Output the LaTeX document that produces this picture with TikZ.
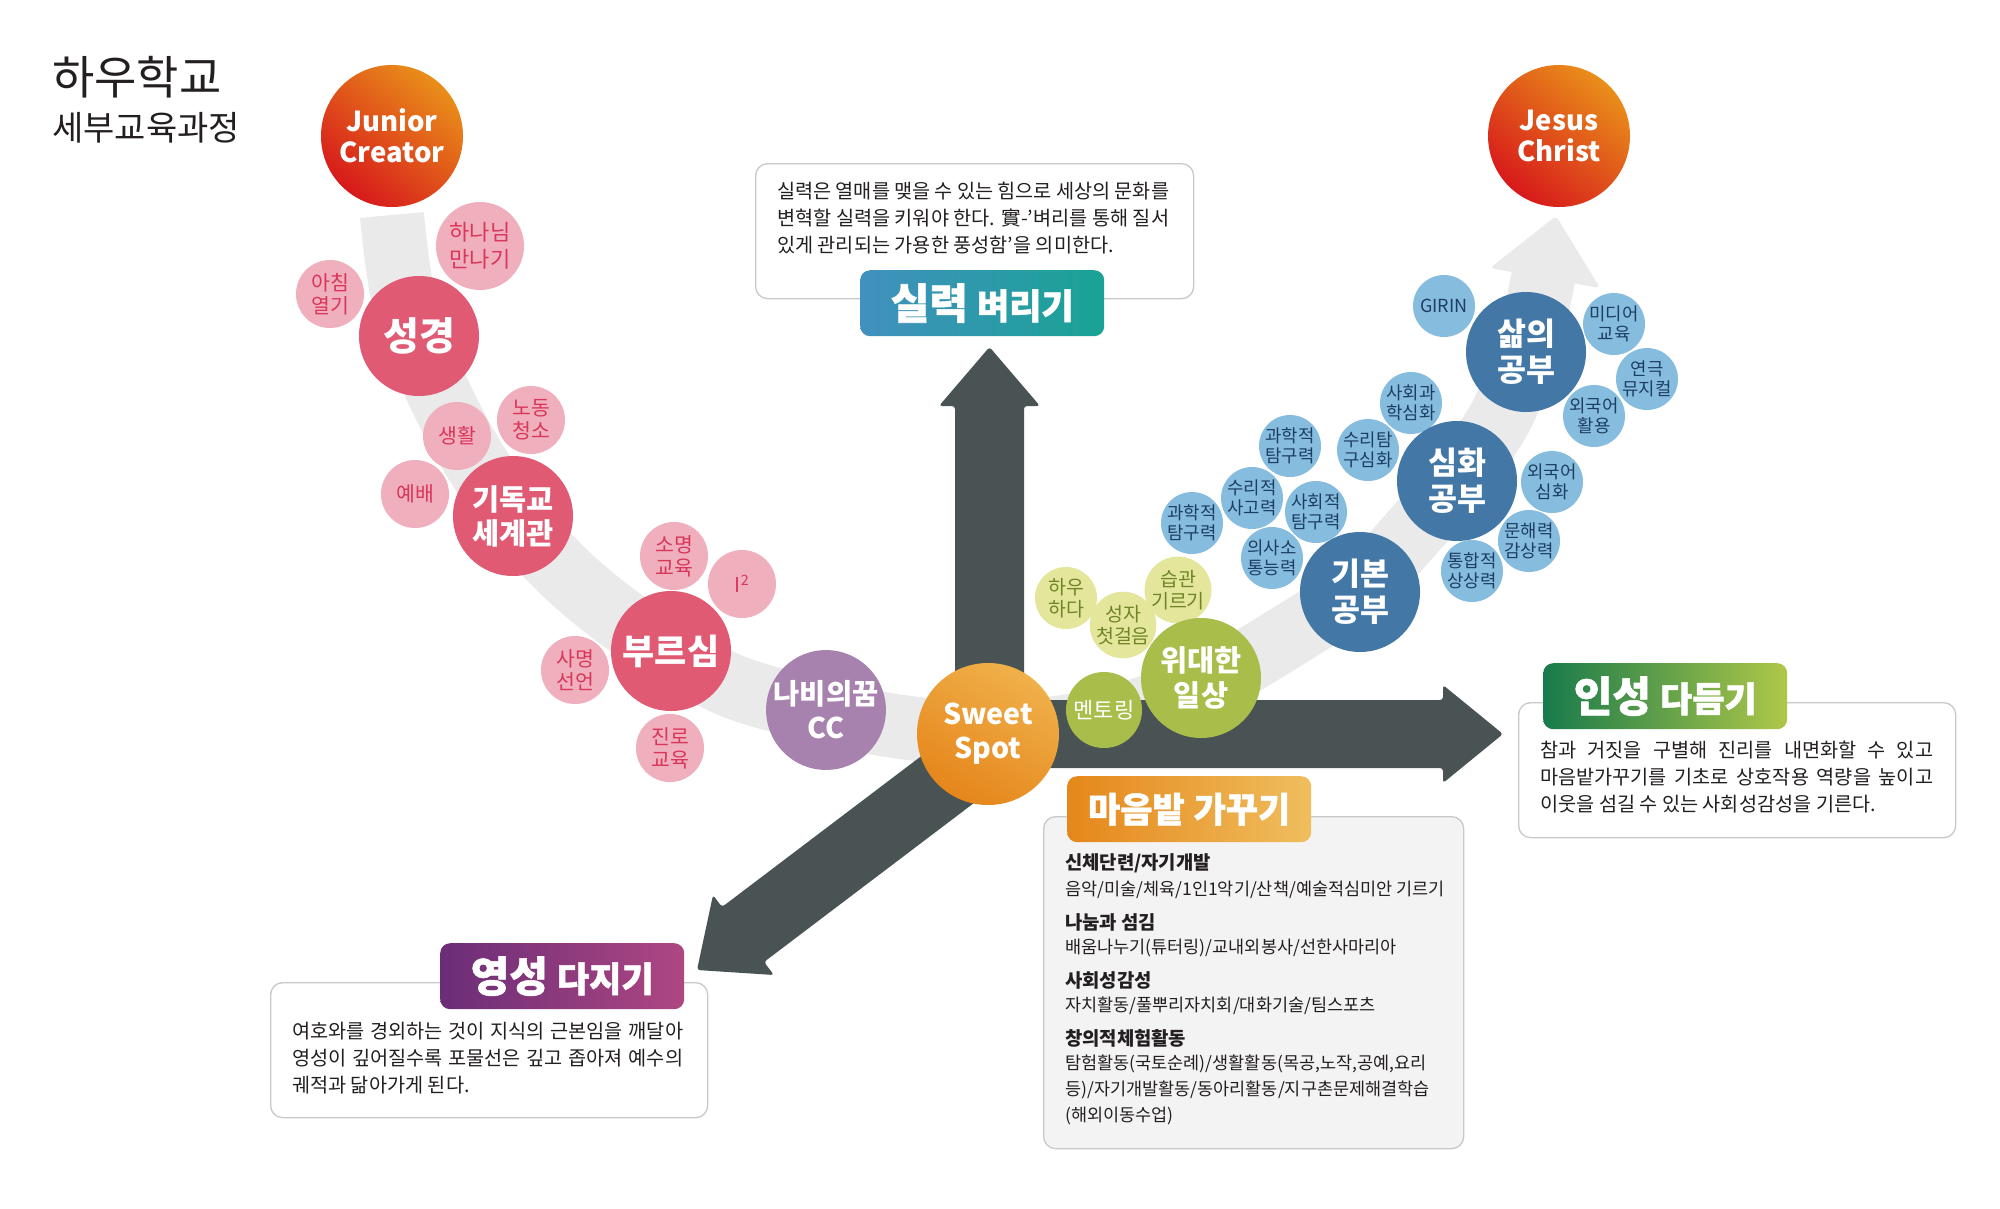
\documentclass[tikz,border=0pt]{standalone}
\usepackage{fontspec}
\setmainfont{Noto Sans CJK KR}

% palette
\definecolor{cInk}{HTML}{231F20}
\definecolor{cBand}{HTML}{EAEAEA}
\definecolor{cDark}{HTML}{4A5354}
\definecolor{cPinkM}{HTML}{E05A73}
\definecolor{cPinkL}{HTML}{F0AFBD}
\definecolor{cPinkT}{HTML}{D9365C}
\definecolor{cPurple}{HTML}{A882AF}
\definecolor{cGreenM}{HTML}{A8BD4A}
\definecolor{cGreenL}{HTML}{E4E69C}
\definecolor{cGreenT}{HTML}{6F8526}
\definecolor{cBlueM}{HTML}{4277A6}
\definecolor{cBlueL}{HTML}{86BDDF}
\definecolor{cBlueT}{HTML}{1D3E63}
\definecolor{cGoalA}{HTML}{E98F1A}
\definecolor{cGoalB}{HTML}{D7191B}
\definecolor{cSweetA}{HTML}{F0B04A}
\definecolor{cSweetB}{HTML}{E5861B}
\definecolor{cBoxLine}{HTML}{C8C8C8}
\definecolor{cBoxFill}{HTML}{F4F3F4}
\definecolor{cSilA}{HTML}{4290BF}
\definecolor{cSilB}{HTML}{18A394}
\definecolor{cInA}{HTML}{187A4B}
\definecolor{cInB}{HTML}{AFC748}
\definecolor{cMaA}{HTML}{E5871B}
\definecolor{cMaB}{HTML}{EFBE5E}
\definecolor{cYeA}{HTML}{6B2D77}
\definecolor{cYeB}{HTML}{AE4782}

% a justified line of fixed width
\newcommand\jline[2]{\makebox[#1][s]{#2}}
% heavy heading words
\newcommand\tagbig[1]{{\bfseries\addfontfeature{FakeBold=1.3}\fontsize{42}{42}\selectfont #1}}
\newcommand\tagsmall[1]{{\bfseries\addfontfeature{FakeBold=1.3}\fontsize{35}{35}\selectfont #1}}

\begin{document}
\begin{tikzpicture}[x=1pt,y=-1pt,
  bigc/.style={circle, inner sep=0pt, align=center, text=white},
  pinkbig/.style={bigc, fill=cPinkM, minimum size=120pt},
  pinksm/.style={circle, inner sep=0pt, align=center, fill=cPinkL, text=cPinkT,
    minimum size=68pt, font=\fontsize{20.5}{23}\selectfont},
  pinkxl/.style={pinksm, minimum size=88pt, font=\fontsize{22}{27}\selectfont},
  bluebig/.style={bigc, fill=cBlueM, minimum size=120pt, font=\bfseries\fontsize{31.5}{36}\selectfont},
  bluesm/.style={circle, inner sep=0pt, align=center, fill=cBlueL, text=cBlueT,
    minimum size=62pt, font=\fontsize{17.8}{19.5}\selectfont},
  greenbig/.style={bigc, fill=cGreenM, minimum size=120pt},
  greensm/.style={circle, inner sep=0pt, align=center, fill=cGreenL, text=cGreenT,
    minimum size=62pt, font=\fontsize{19.5}{22}\selectfont},
  goal/.style={bigc, minimum size=142pt, top color=cGoalA, bottom color=cGoalB,
    shading angle=-40, font=\bfseries\fontsize{27.5}{31}\selectfont},
  darkarrow/.style={fill=cDark, rounded corners=3pt},
  descbox/.style={draw=cBoxLine, line width=1.3pt, rounded corners=12pt, fill=white,
    inner sep=0pt, anchor=north west},
  desctext/.style={align=left, inner sep=0pt, text=cInk, font=\fontsize{19.7}{26.8}\selectfont},
  tagbox/.style={rounded corners=10pt, inner sep=0pt, anchor=north west, text=white,
    minimum width=244pt, minimum height=66pt},
  listhead/.style={anchor=west, inner sep=0pt, text=cInk, font=\bfseries\fontsize{18.8}{20}\selectfont},
  listline/.style={anchor=west, inner sep=0pt, text=cInk, font=\fontsize{17.5}{20}\selectfont}
]
\useasboundingbox (0,0) rectangle (2000,1208);
\fill[white] (0,0) rectangle (2000,1208);

% ---- title
\node[anchor=west, inner sep=0pt, text=cInk, font=\fontsize{46}{46}\selectfont] (title) at (52,77) {하우학교};
\node[anchor=west, inner sep=0pt, text=cInk, font=\fontsize{34}{34}\selectfont] (subtitle) at (52,128) {세부교육과정};

% ---- grey growth band with its arrow head
\draw[cBand, line width=64pt] plot[smooth, tension=0.55] coordinates {
  (392,215) (404,300) (436,387) (482,472) (547,555) (622,620) (725,683) (826,712)
  (902,727) (988,734) (1104,720) (1201,686) (1285,638) (1360,588) (1412,533)
  (1457,480) (1500,418) (1527,350) (1544,274)};
\fill[cBand, rounded corners=4pt] (1490,268) -- (1556,216) -- (1600,288) -- cycle;

% ---- three dark arrows leaving the sweet spot
\fill[darkarrow] (955,734) -- (955,406) -- (939,406) -- (989.5,347) -- (1040,406)
  -- (1024,406) -- (1024,734) -- cycle;
\fill[darkarrow] (988,700) -- (1443,700) -- (1443,685) -- (1503,734) -- (1443,783)
  -- (1443,768) -- (988,768) -- cycle;
\fill[darkarrow] (961,726) -- (722,907) -- (713,895) -- (697,970) -- (774,975)
  -- (764,962) -- (1003,781) -- cycle;

% ---- description boxes
\node[descbox, minimum width=438pt, minimum height=135pt] (boxSil) at (755,163) {};
\node[desctext, anchor=west] (txtSil) at (777,218) {%
  \jline{392pt}{실력은 열매를 맺을 수 있는 힘으로 세상의 문화를}\\
  \jline{392pt}{변혁할 실력을 키워야 한다. 實-'벼리를 통해 질서}\\
  있게 관리되는 가용한 풍성함'을 의미한다.};

\node[descbox, minimum width=437pt, minimum height=135pt] (boxIn) at (1518,702) {};
\node[desctext, anchor=west] (txtIn) at (1540,777) {%
  \jline{393pt}{참과 거짓을 구별해 진리를 내면화할 수 있고}\\
  \jline{393pt}{마음밭가꾸기를 기초로 상호작용 역량을 높이고}\\
  이웃을 섬길 수 있는 사회성감성을 기른다.};

\node[descbox, minimum width=437pt, minimum height=135pt] (boxYe) at (270,982) {};
\node[desctext, anchor=west] (txtYe) at (292,1058) {%
  \jline{391pt}{여호와를 경외하는 것이 지식의 근본임을 깨달아}\\
  \jline{391pt}{영성이 깊어질수록 포물선은 깊고 좁아져 예수의}\\
  궤적과 닮아가게 된다.};

\node[descbox, fill=cBoxFill, minimum width=420pt, minimum height=332pt] (boxMa) at (1043,816) {};
\node[listhead] (m1) at (1065,863) {신체단련/자기개발};
\node[listline] (m2) at (1065,890) {음악/미술/체육/1인1악기/산책/예술적심미안 기르기};
\node[listhead] (m3) at (1065,922) {나눔과 섬김};
\node[listline] (m4) at (1065,948) {배움나누기(튜터링)/교내외봉사/선한사마리아};
\node[listhead] (m5) at (1065,980) {사회성감성};
\node[listline] (m6) at (1065,1006) {자치활동/풀뿌리자치회/대화기술/팀스포츠};
\node[listhead] (m7) at (1065,1038) {창의적체험활동};
\node[listline] (m8) at (1065,1064) {탐험활동(국토순례)/생활활동(목공,노작,공예,요리};
\node[listline] (m9) at (1065,1090) {등)/자기개발활동/동아리활동/지구촌문제해결학습};
\node[listline] (m10) at (1065,1116) {(해외이동수업)};

% ---- heading tags
\node[tagbox, left color=cSilA, right color=cSilB] (tagSil) at (860,270)
  {\tagbig{실력}\hspace{9pt}\tagsmall{벼리기}};
\node[tagbox, left color=cInA, right color=cInB] (tagIn) at (1543,663)
  {\tagbig{인성}\hspace{9pt}\tagsmall{다듬기}};
\node[tagbox, left color=cMaA, right color=cMaB] (tagMa) at (1067,776)
  {\tagsmall{마음밭}\hspace{9pt}\tagsmall{가꾸기}};
\node[tagbox, left color=cYeA, right color=cYeB] (tagYe) at (440,943)
  {\tagbig{영성}\hspace{9pt}\tagsmall{다지기}};

% ---- goals
\node[goal] (junior) at (392,136) {Junior\\Creator};
\node[goal] (jesus) at (1559,136) {Jesus\\Christ};

% ---- faith path (pink)
\node[pinkxl] (hananim) at (480,246) {하나님\\만나기};
\node[pinksm] (achim) at (330,294) {아침\\열기};
\node[pinkbig, font=\bfseries\fontsize{39}{42}\selectfont] (seonggyeong) at (419,336) {성경};
\node[pinksm] (nodong) at (531,420) {노동\\청소};
\node[pinksm] (saenghwal) at (457,436) {생활};
\node[pinksm] (yebae) at (415,494) {예배};
\node[pinkbig, font=\bfseries\fontsize{29.5}{34}\selectfont] (gidokgyo) at (513,516) {기독교\\세계관};
\node[pinksm] (somyeong) at (674,556) {소명\\교육};
\node[pinksm] (isquare) at (742,584) {I\textsuperscript{2}};
\node[pinksm] (samyeong) at (575,670) {사명\\선언};
\node[pinkbig, font=\bfseries\fontsize{35}{38}\selectfont] (bureusim) at (671,651) {부르심};
\node[pinksm] (jinro) at (670,748) {진로\\교육};
\node[bigc, fill=cPurple, minimum size=118pt, font=\bfseries\fontsize{28.5}{34}\selectfont] (nabi) at (826,710) {나비의꿈\\CC};

% ---- sweet spot
\node[bigc, minimum size=142pt, top color=cSweetA, bottom color=cSweetB, shading angle=-30,
  font=\bfseries\fontsize{28.5}{34}\selectfont] (sweet) at (988,734) {Sweet\\Spot};

% ---- everyday path (green)
\node[bigc, fill=cGreenM, minimum size=76pt, font=\fontsize{22}{24}\selectfont] (mentoring) at (1104,710) {멘토링};
\node[greensm] (hau) at (1066,598) {하우\\하다};
\node[greensm] (seongja) at (1123,625) {성자\\첫걸음};
\node[greensm] (seupgwan) at (1178,590) {습관\\기르기};
\node[greenbig, font=\bfseries\fontsize{29.5}{35}\selectfont] (widae) at (1201,678) {위대한\\일상};

% ---- study path (blue)
\node[bluesm] (gwahak1) at (1192,523) {과학적\\탐구력};
\node[bluesm] (suri1) at (1252,498) {수리적\\사고력};
\node[bluesm] (sahoe1) at (1316,512) {사회적\\탐구력};
\node[bluesm] (uisa) at (1272,558) {의사소\\통능력};
\node[bluebig] (gibon) at (1360,592) {기본\\공부};
\node[bluesm] (gwahak2) at (1290,446) {과학적\\탐구력};
\node[bluesm] (suri2) at (1368,450) {수리탐\\구심화};
\node[bluesm] (sahoe2) at (1411,403) {사회과\\학심화};
\node[bluesm] (oeguk1) at (1552,482) {외국어\\심화};
\node[bluesm] (munhae) at (1529,541) {문해력\\감상력};
\node[bluesm] (tonghap) at (1472,571) {통합적\\상상력};
\node[bluebig] (simhwa) at (1457,481) {심화\\공부};
\node[bluesm, font=\fontsize{18}{20}\selectfont] (girin) at (1444,306) {GIRIN};
\node[bluesm] (media) at (1614,324) {미디어\\교육};
\node[bluesm] (yeongeuk) at (1647,379) {연극\\뮤지컬};
\node[bluesm] (oeguk2) at (1594,416) {외국어\\활용};
\node[bluebig] (salm) at (1526,352) {삶의\\공부};

\end{tikzpicture}
\end{document}
